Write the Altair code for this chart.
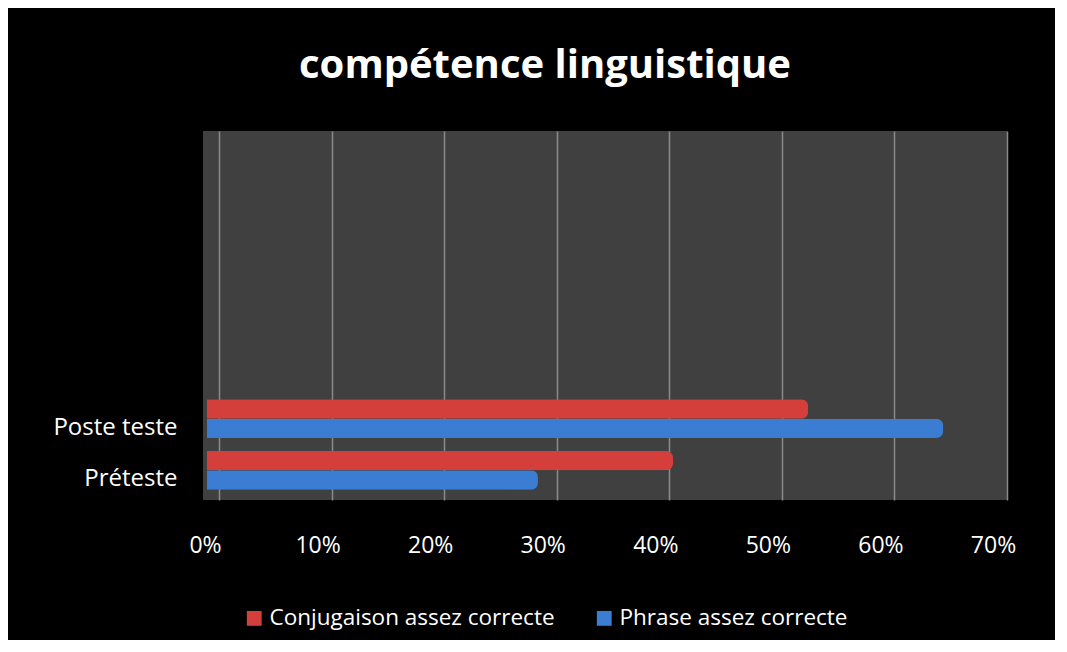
import altair as alt
import pandas as pd

categories = ["Préteste", "Poste teste"]
conjugaison = [0.414, 0.534]
phrase = [0.294, 0.654]
series = ["Conjugaison assez correcte", "Phrase assez correcte"]
placeholders = ["_1", "_2", "_3", "_4", "_5"]
x_ticks = [0, 0.1, 0.2, 0.3, 0.4, 0.5, 0.6, 0.7]

rows = []
for c, a, b in zip(categories, conjugaison, phrase):
    rows.append({"cat": c, "serie": series[0], "val": a})
    rows.append({"cat": c, "serie": series[1], "val": b})
df = pd.DataFrame(rows)

font = "Open Sans"

chart = alt.Chart(df).mark_bar(cornerRadiusEnd=7).encode(
    x=alt.X("val:Q",
            scale=alt.Scale(domain=[-0.00355, 0.71066], nice=False, zero=False),
            axis=alt.Axis(values=x_ticks, format=".0%", title=None,
                          labelColor="white", labelFontSize=23, labelFont=font,
                          labelPadding=34, labelFlush=False, ticks=False, domain=False,
                          tickOffset=12, labelOffset=-14,
                          grid=True, gridColor="#8a8a8a", gridWidth=1.5)),
    y=alt.Y("cat:N",
            scale=alt.Scale(domain=placeholders + ["Poste teste", "Préteste"],
                            paddingInner=0.25, paddingOuter=0.2),
            axis=alt.Axis(title=None, ticks=False, domain=False,
                          labelExpr="indexof(datum.value, '_') == 0 ? '' : datum.value",
                          labelColor="white", labelFontSize=24, labelFont=font,
                          labelPadding=26, labelOffset=9)),
    yOffset=alt.YOffset("serie:N", sort=series),
    color=alt.Color("serie:N", sort=series,
                    scale=alt.Scale(domain=series, range=["#D43F3C", "#3B7DD3"]),
                    legend=alt.Legend(title=None, orient="none", direction="horizontal",
                                      legendX=40, legendY=476,
                                      symbolType="square", symbolSize=220,
                                      symbolStrokeWidth=0,
                                      labelColor="white", labelFontSize=22.5, labelFont=font,
                                      columnPadding=38, labelLimit=400)),
).properties(
    width=804,
    height=369,
    title=alt.TitleParams("compétence linguistique", color="white", fontSize=40,
                          font=font, fontWeight="bold", anchor="middle",
                          frame="group", dx=-60, offset=45),
    padding={"left": 195, "top": 123, "right": 48, "bottom": 140},
    autosize=alt.AutoSizeParams(type="none"),
    background="black",
).configure_view(fill="#404040", stroke=None)

chart.save("out.html", embed_options={"renderer": "svg", "actions": False})
